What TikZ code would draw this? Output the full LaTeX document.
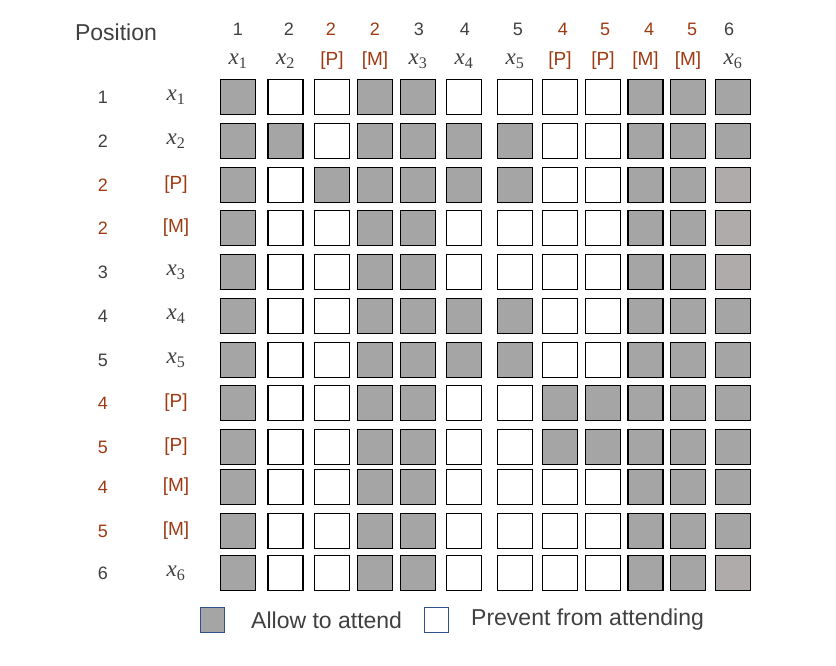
\documentclass[tikz,border=0pt]{standalone}
\usepackage{fontspec}
\setmainfont{Liberation Sans}
\newfontfamily\varfont{Liberation Serif}
\usetikzlibrary{positioning}
\definecolor{allowgray}{HTML}{A5A5A5}
\definecolor{dimgray}{HTML}{AFABAB}
\definecolor{plaintext}{HTML}{404040}
\definecolor{bricktext}{HTML}{9E3A12}
\definecolor{keyblue}{HTML}{2F528F}
\newcommand{\xvar}[1]{{\fontsize{23}{26}\selectfont\varfont
  {\itshape x}\textsubscript{#1}}}
\tikzset{%
  cell/.style={draw, line width=1.2pt, minimum width=35pt,
    minimum height=35pt, inner sep=0pt},
  cellA/.style={cell, fill=allowgray},  % allow to attend
  cellP/.style={cell, fill=white},      % prevent from attending
  cellL/.style={cell, fill=dimgray},
  plain/.style={text=plaintext},
  brick/.style={text=bricktext},
  numtext/.style={font=\fontsize{18}{21}\selectfont, inner sep=0pt},
  labtext/.style={font=\fontsize{19}{22}\selectfont, inner sep=0pt},
  keybox/.style={draw=keyblue, line width=0.9pt, minimum width=24pt,
    minimum height=25pt, inner sep=0pt},
  keytext/.style={font=\fontsize{23}{27}\selectfont, text=plaintext,
    inner sep=0pt, anchor=west}
}

\begin{document}
\begin{tikzpicture}[x=1pt, y=-1pt]
    \useasboundingbox (0,0) rectangle (836,665);

    \node[plain, font=\fontsize{23}{27}\selectfont] (pos) at (116,32) {Position};

    \foreach \x [count=\c] in {238,285.5,332,375,418,464,515,560,603,645.5,688,733}
      \coordinate (col\c) at (\x,0);

    % column heads
    \foreach \nx/\num/\nc/\lab/\lc [count=\c] in {
        238/1/plain/{\xvar{1}}/plain,
        289/2/plain/{\xvar{2}}/plain,
        331/2/brick/{[P]}/brick,
        375/2/brick/{[M]}/brick,
        419/3/plain/{\xvar{3}}/plain,
        465/4/plain/{\xvar{4}}/plain,
        518/5/plain/{\xvar{5}}/plain,
        563/4/brick/{[P]}/brick,
        605/5/brick/{[P]}/brick,
        649/4/brick/{[M]}/brick,
        692/5/brick/{[M]}/brick,
        729/6/plain/{\xvar{6}}/plain}{
      \node[numtext, \nc] (top\c) at (\nx,29) {\num};
      \node[labtext, \lc] (head\c) at (col\c |- 0,61) {\lab};
    }

    % rows: position, label, cells
    \foreach \y/\num/\lab/\lc/\pat [count=\r] in {
        97/1/{\xvar{1}}/plain/{A,P,P,A,A,P,P,P,P,A,A,A},
        141/2/{\xvar{2}}/plain/{A,A,P,A,A,A,A,P,P,A,A,A},
        185/2/{[P]}/brick/{A,P,A,A,A,A,A,P,P,A,A,L},
        228/2/{[M]}/brick/{A,P,P,A,A,P,P,P,P,A,A,L},
        272/3/{\xvar{3}}/plain/{A,P,P,A,A,P,P,P,P,A,A,L},
        316/4/{\xvar{4}}/plain/{A,P,P,A,A,A,A,P,P,A,A,A},
        360/5/{\xvar{5}}/plain/{A,P,P,A,A,A,A,P,P,A,A,A},
        403/4/{[P]}/brick/{A,P,P,A,A,P,P,A,A,A,A,A},
        447/5/{[P]}/brick/{A,P,P,A,A,P,P,A,A,A,A,A},
        487/4/{[M]}/brick/{A,P,P,A,A,P,P,P,P,A,A,A},
        531/5/{[M]}/brick/{A,P,P,A,A,P,P,P,P,A,A,A},
        573/6/{\xvar{6}}/plain/{A,P,P,A,A,P,P,P,P,A,A,L}}{
      \coordinate (row\r) at (0,\y);
      \node[numtext, \lc] (num\r) at (103,\y) {\num};
      \node[labtext, \lc] (lab\r) at (176,\y) {\lab};
      \foreach \f [count=\c] in \pat
        \node[cell\f] (c\r-\c) at (col\c |- row\r) {};
    }

    % legend
    \node[keybox, fill=allowgray] (keyA) at (212,620) {};
    \node[keytext] (keyAtext) at (251,620) {Allow to attend};
    \node[keybox, fill=white] (keyP) at (436,620) {};
    \node[keytext] (keyPtext) at (471,620) {Prevent from attending};
\end{tikzpicture}
\end{document}
